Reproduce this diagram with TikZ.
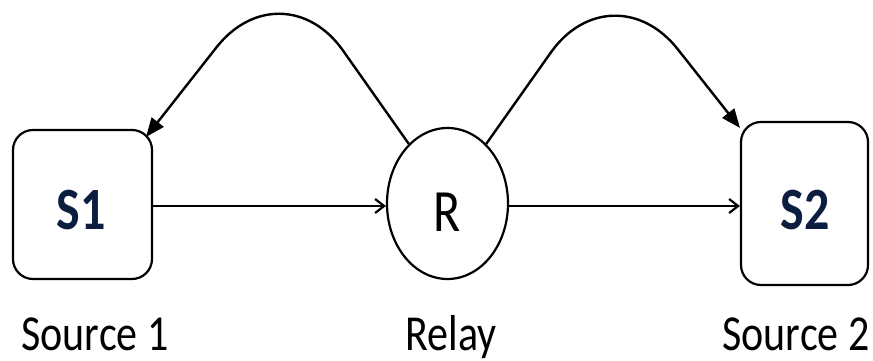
\documentclass[tikz,border=0pt]{standalone}
\usepackage{fontspec}
\setmainfont{Carlito}
\usetikzlibrary{shapes.geometric,arrows.meta}
\definecolor{snavy}{RGB}{12,30,64}
\tikzset{
  srcbox/.style={draw, line width=2.2pt, rounded corners=20pt, inner sep=0pt},
  relay/.style={draw, ellipse, line width=2.2pt, inner sep=0pt, minimum width=121pt, minimum height=151pt},
  boxlabel/.style={font=\fontsize{50}{56}\selectfont\bfseries, text=snavy, yscale=1.2},
  caption/.style={font=\fontsize{42}{48}\selectfont, anchor=base, yscale=1.2},
  straightarrow/.style={line width=2.4pt, -{Straight Barb[length=9pt,width=14pt,line width=2.2pt]}},
  loop/.style={line width=2.4pt, rounded corners=106pt, -{Triangle[length=19pt,width=15pt]}}
}
\begin{document}
\begin{tikzpicture}[x=1pt,y=-1pt]
\useasboundingbox (0,0) rectangle (873,361);
\node[srcbox, minimum width=139pt, minimum height=149pt] (S1) at (82.5,204.5) {};
\node[boxlabel] (S1t) at (81,210) {S1};
\node[relay] (R) at (447.5,203.5) {};
\node[font=\fontsize{50}{56}\selectfont, yscale=1.2] (Rt) at (447,212) {R};
\node[srcbox, minimum width=127pt, minimum height=163pt] (S2) at (804.5,203.5) {};
\node[boxlabel] (S2t) at (805,210) {S2};
\node[caption] (c1) at (95,350) {Source 1};
\node[caption] (c2) at (451,350) {Relay};
\node[caption] (c3) at (796,350) {Source 2};
\coordinate (t1) at (146,137);
\coordinate (t2) at (740,128);
\draw[straightarrow] (S1.east |- 0,206) -- (R.west |- 0,206);
\draw[straightarrow] (R.east |- 0,206) -- (S2.west |- 0,206);
\draw[loop] (R.123) -- (282,-36) -- (t1);
\draw[loop] (R.57) -- (612,-34) -- (t2);
\end{tikzpicture}
\end{document}
